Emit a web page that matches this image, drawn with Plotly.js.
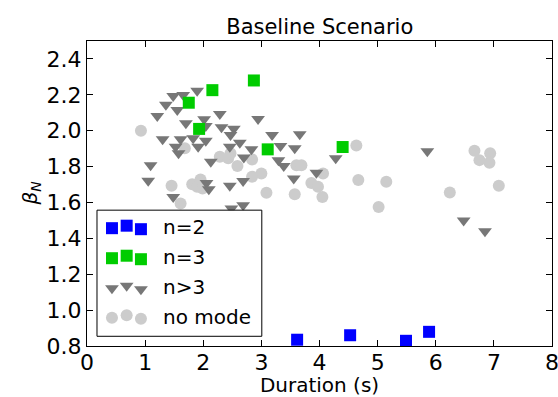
<!DOCTYPE html>
<html><head><meta charset="utf-8">
<script src="https://cdn.plot.ly/plotly-3.0.1.min.js"></script>
<style>html,body{margin:0;padding:0;background:#fff}</style>
</head><body><div id="chart" style="width:558px;height:397px"></div>
<script>
// ---- data ----
const n2X = [3.615, 4.527, 5.488, 5.885];
const n2Y = [0.835, 0.860, 0.829, 0.879];

const n3X = [2.871, 2.157, 1.751, 1.929, 3.109, 4.398];
const n3Y = [2.280, 2.226, 2.156, 2.010, 1.896, 1.909];

const ngt3X = [1.895, 1.483, 1.655, 1.357, 1.553, 1.209, 1.701, 2.015, 2.285, 2.044,
               2.943, 2.314, 2.526, 2.469, 1.301, 1.610, 1.826, 2.044, 1.912, 1.524,
               1.575, 2.629, 2.829, 2.457, 3.184, 3.328, 3.574, 3.660, 2.698, 2.130,
               3.293, 3.385, 1.094, 1.053, 2.056, 2.096, 2.457, 2.686, 3.557, 3.947,
               1.483, 2.484, 2.686, 4.279, 5.855, 6.480, 6.847];
const ngt3Y = [2.223, 2.194, 2.199, 2.144, 2.116, 2.082, 2.041, 2.064, 2.093, 2.026,
               2.065, 2.019, 2.011, 1.976, 1.952, 1.952, 1.958, 1.944, 1.911, 1.911,
               1.874, 1.933, 1.896, 1.911, 1.976, 1.915, 1.902, 1.980, 1.851, 1.827,
               1.836, 1.803, 1.808, 1.721, 1.709, 1.674, 1.693, 1.719, 1.734, 1.765,
               1.631, 1.566, 1.585, 1.846, 1.886, 1.500, 1.440];

const noModeX = [0.928, 1.683, 2.285, 2.429, 2.469, 2.588, 2.840, 3.000, 2.840, 3.603,
                 3.689, 3.860, 3.974, 1.455, 1.810, 1.895, 1.953, 1.988, 3.087, 3.574,
                 1.610, 4.634, 4.061, 4.050, 4.668, 5.149, 5.017, 6.242, 6.666, 6.936,
                 6.752, 6.924, 7.085];
const noModeY = [2.000, 1.902, 1.855, 1.846, 1.874, 1.803, 1.840, 1.762, 1.743, 1.808,
                 1.808, 1.709, 1.687, 1.693, 1.702, 1.687, 1.728, 1.678, 1.654, 1.646,
                 1.594, 1.918, 1.762, 1.631, 1.725, 1.715, 1.575, 1.656, 1.888, 1.874,
                 1.836, 1.821, 1.693];

const seriesNames = ["n=2", "n=3", "n>3", "no mode"];
const xTicks = [0, 1, 2, 3, 4, 5, 6, 7, 8];
const yTicks = [0.8, 1.0, 1.2, 1.4, 1.6, 1.8, 2.0, 2.2, 2.4];
const titleText = "Baseline Scenario";
const xTitle = "Duration (s)";
const yTitle = "<i>β</i><sub><i>N</i></sub>";

// ---- styles ----
const FONT = "DejaVu Sans, sans-serif";
const styles = [
  {symbol: "square", color: "#0000ff", size: 12},
  {symbol: "square", color: "#00cc00", size: 12},
  {symbol: "triangle-down", color: "#777777", size: 12},
  {symbol: "circle", color: "#cccccc", size: 12}
];

// plot area in pixels
const PL = 87, PR = 552.5, PT = 41, PB = 345.7;
const W = 558, H = 397;
const fx = px => (px - PL) / (PR - PL);
const fy = py => (PB - py) / (PB - PT);

function mk(x, y, s, name) {
  return {type: "scatter", mode: "markers", x: x, y: y, name: name,
    marker: {symbol: s.symbol, color: s.color, size: s.size, line: {width: 0}},
    showlegend: false, hoverinfo: "skip"};
}

const traces = [
  mk(noModeX, noModeY, styles[3], seriesNames[3]),
  mk(ngt3X, ngt3Y, styles[2], seriesNames[2]),
  mk(n3X, n3Y, styles[1], seriesNames[1]),
  mk(n2X, n2Y, styles[0], seriesNames[0])
];

// ---- custom legend (box + three sample markers per entry) on an overlay axis ----
const box = {x0: 97, x1: 262, y0: 210, y1: 336};
traces.push({type: "scatter", mode: "lines", xaxis: "x2", yaxis: "y2",
  x: [fx(box.x0), fx(box.x1), fx(box.x1), fx(box.x0), fx(box.x0)],
  y: [fy(box.y0), fy(box.y0), fy(box.y1), fy(box.y1), fy(box.y0)],
  fill: "toself", fillcolor: "#ffffff", line: {color: "#000000", width: 1},
  showlegend: false, hoverinfo: "skip"});

const legCols = [112, 126.7, 141];
const legColDy = [1, -1.5, 2];
const legRows = [227, 257, 287, 316.5];
const annotations = [];
seriesNames.forEach((nm, i) => {
  const s = styles[i];
  traces.push({type: "scatter", mode: "markers", xaxis: "x2", yaxis: "y2",
    x: legCols.map(fx), y: legColDy.map(d => fy(legRows[i] + d)),
    marker: {symbol: s.symbol, color: s.color, size: s.size, line: {width: 0}},
    showlegend: false, hoverinfo: "skip"});
  annotations.push({xref: "paper", yref: "paper", x: fx(161), y: fy(legRows[i]),
    xanchor: "left", yanchor: "middle", showarrow: false, text: nm,
    font: {family: FONT, size: 20, color: "#000"}});
});

// y-axis label as rotated annotation
annotations.push({xref: "paper", yref: "paper", x: fx(30), y: 0.5,
  xanchor: "center", yanchor: "middle", textangle: -90, showarrow: false,
  text: yTitle, font: {family: FONT, size: 20, color: "#000"}});

const axCommon = {showgrid: false, zeroline: false, showline: true, linecolor: "#000",
  linewidth: 1, mirror: "ticks", ticks: "inside", ticklen: 6, tickwidth: 1, tickcolor: "#000",
  ticklabeloverflow: "allow",
  tickfont: {family: FONT, size: 22, color: "#000"}};

const layout = {
  width: W, height: H,
  margin: {l: PL, r: W - PR, t: PT, b: H - PB, pad: 0},
  paper_bgcolor: "#fff", plot_bgcolor: "#fff",
  showlegend: false,
  title: {text: titleText, font: {family: FONT, size: 21, color: "#000"},
    x: fx(320), xref: "paper", y: 1 - 27 / H, yref: "container", xanchor: "center", yanchor: "middle"},
  xaxis: Object.assign({}, axCommon, {range: [0, 8], tickvals: xTicks,
    ticktext: xTicks.map(String), automargin: false, ticklabelstandoff: -3,
    title: {text: xTitle, font: {family: FONT, size: 20, color: "#000"}, standoff: 10}}),
  yaxis: Object.assign({}, axCommon, {range: [0.8, 2.5], tickvals: yTicks,
    ticktext: yTicks.map(v => v.toFixed(1)), automargin: false}),
  xaxis2: {overlaying: "x", range: [0, 1], visible: false, fixedrange: true},
  yaxis2: {overlaying: "y", range: [0, 1], visible: false, fixedrange: true},
  annotations: annotations
};

Plotly.newPlot("chart", traces, layout, {displayModeBar: false, staticPlot: true});
</script></body></html>
